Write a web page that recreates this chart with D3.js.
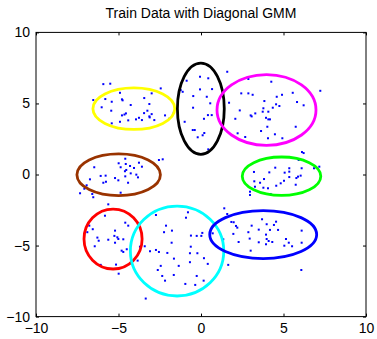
<!DOCTYPE html>
<html><head><meta charset="utf-8">
<script src="https://cdn.jsdelivr.net/npm/d3@7"></script>
<style>html,body{margin:0;padding:0;background:#fff;}svg{display:block;}</style>
</head><body>
<svg id="chart" width="377" height="339"></svg>
<script>
const title = "Train Data with Diagonal GMM";
const xTicks = [-10, -5, 0, 5, 10];
const yTicks = [-10, -5, 0, 5, 10];
const tickLabels = ["\u221210", "\u22125", "0", "5", "10"];

// ellipse components: center x, center y, radius x, radius y, colour
const compNames = ["yellow","black","magenta","green","brown","red","cyan","blue"];
const compCx = [-4.07, -0.01, 3.97, 4.88, -4.99, -5.33, -1.45, 3.77];
const compCy = [4.63, 4.63, 4.54, -0.12, -0.02, -4.54, -5.39, -4.23];
const compRx = [2.48, 1.42, 3.00, 2.38, 2.53, 1.76, 2.83, 3.24];
const compRy = [1.46, 3.21, 2.49, 1.35, 1.47, 2.11, 3.16, 1.69];
const compColors = ["#ffff00","#000000","#ff00ff","#00ff00","#993300","#ff0000","#00ffff","#0000ff"];

// training points, grouped by cluster
const ptsYellow = [[-5.92,6.36],[-5.50,6.39],[-2.44,6.06],[-4.91,5.75],[-2.99,5.71],[-6.53,5.24],[-5.80,5.31],[-4.79,5.29],[-4.75,5.22],[-5.41,5.12],[-3.44,5.38],[-4.26,4.89],[-3.13,4.96],[-6.02,4.73],[-5.44,4.49],[-4.55,4.30],[-4.79,4.16],[-4.64,4.22],[-3.25,4.49],[-3.45,4.32],[-2.99,4.25],[-3.13,4.09],[-3.11,4.02],[-3.76,3.99],[-3.94,3.88],[-3.58,3.83],[-4.41,3.81],[-4.91,3.71],[-5.41,3.60],[-2.83,3.83],[-2.18,4.16],[-1.94,3.92],[-1.65,4.35]];
const ptsBlack = [[-1.23,5.94],[-1.11,5.82],[-0.87,6.60],[-0.06,6.88],[0.44,6.77],[0.67,6.01],[-0.06,5.99],[-0.47,5.52],[0.35,5.47],[0.56,5.01],[-0.48,4.70],[0.42,4.18],[0.65,4.18],[0.18,3.92],[-0.99,3.71],[-0.50,3.13],[-0.38,3.13],[0.20,2.92],[0.10,2.76],[-0.20,2.62],[0.44,1.77]];
const ptsMagenta = [[1.59,7.23],[2.87,6.72],[4.26,6.53],[2.44,5.71],[2.87,5.71],[3.13,5.61],[4.59,5.47],[4.91,5.61],[5.56,5.75],[7.23,5.89],[1.70,5.05],[3.84,5.17],[2.35,4.51],[3.01,4.16],[3.07,4.09],[3.29,4.30],[3.78,4.66],[3.74,4.42],[4.08,4.42],[4.35,4.70],[4.55,4.94],[4.75,4.82],[3.94,3.99],[4.08,3.88],[4.18,3.88],[2.08,3.92],[5.82,5.10],[6.22,4.87],[4.02,3.36],[3.64,3.06],[2.22,2.90],[2.68,2.64],[4.06,2.55],[4.48,2.83],[4.93,2.55],[5.74,3.36]];
const ptsGreen = [[6.12,1.58],[6.22,1.51],[5.92,1.02],[6.85,0.44],[7.17,0.55],[3.21,0.18],[4.14,0.15],[4.50,0.48],[5.07,0.13],[5.35,0.44],[5.35,0.20],[5.35,-0.18],[5.78,-0.25],[5.88,-0.15],[6.04,-0.08],[6.10,0.44],[3.82,-0.32],[3.58,-0.58],[3.23,-0.48],[3.27,-0.86],[3.78,-0.93],[4.06,-0.97],[4.56,-0.79],[4.83,-0.62],[5.03,-0.44],[5.74,-0.72],[2.97,-1.21],[2.97,-1.44],[4.22,-1.37]];
const ptsBrown = [[-4.59,1.11],[-4.99,0.79],[-4.56,0.74],[-3.76,0.83],[-3.58,0.55],[-4.06,0.46],[-4.87,0.51],[-4.30,0.60],[-4.53,0.32],[-4.61,0.23],[-4.26,0.08],[-3.92,-0.01],[-3.82,-0.20],[-4.59,-0.13],[-5.78,-0.08],[-6.08,-0.10],[-5.21,-0.25],[-5.01,-0.41],[-4.42,-0.58],[-6.47,0.51],[-6.73,-0.34],[-5.92,-0.58],[-5.76,-0.51],[-6.93,-0.76],[-7.07,-1.00],[-7.33,-1.32],[-6.59,-1.37],[-6.53,-1.60],[-4.87,-1.28],[-2.55,1.02],[-2.32,1.07]];
const ptsRed = [[-5.62,-2.10],[-5.82,-2.90],[-6.77,-3.60],[-6.56,-3.85],[-6.89,-4.06],[-6.28,-4.44],[-6.20,-4.66],[-6.44,-5.05],[-5.62,-4.59],[-5.21,-3.95],[-5.25,-4.32],[-5.07,-4.42],[-5.01,-4.54],[-4.71,-4.56],[-5.21,-4.80],[-4.59,-3.39],[-4.41,-3.60],[-4.50,-5.26],[-4.81,-5.36],[-4.71,-5.45],[-6.08,-6.36],[-5.15,-6.34],[-4.99,-6.98]];
const ptsCyan = [[-2.73,-2.85],[-0.79,-2.66],[-0.91,-3.04],[-2.12,-3.60],[-2.24,-4.06],[-1.76,-3.95],[-1.78,-4.80],[-0.61,-4.30],[-0.26,-4.32],[0.02,-4.32],[0.08,-4.11],[0.71,-4.14],[1.35,-4.56],[-0.62,-5.08],[-3.70,-5.08],[-3.41,-5.05],[-3.09,-5.40],[-2.73,-5.31],[-2.55,-5.45],[-2.04,-5.52],[-1.64,-5.92],[-0.67,-5.54],[-0.22,-5.54],[0.18,-5.89],[0.41,-6.29],[-0.67,-6.17],[-1.35,-6.43],[-2.44,-6.43],[-2.62,-6.72],[-2.35,-7.14],[-2.18,-7.47],[-1.65,-7.07],[-0.26,-7.14],[0.16,-7.47],[-0.95,-7.70],[-0.35,-7.77],[-3.84,-6.06],[-3.35,-8.73],[1.65,-6.36]];
const ptsBlue = [[1.41,-2.38],[1.59,-2.78],[1.84,-3.34],[1.98,-3.36],[2.12,-3.62],[2.20,-3.74],[1.96,-4.18],[2.28,-4.75],[2.87,-4.06],[2.95,-4.51],[3.07,-3.60],[3.50,-3.88],[3.70,-3.15],[3.98,-3.50],[3.94,-4.23],[3.98,-4.54],[4.18,-3.90],[4.10,-4.68],[4.32,-4.75],[4.42,-3.55],[4.55,-3.32],[4.67,-3.90],[3.50,-4.77],[3.01,-5.36],[3.94,-4.91],[5.15,-4.54],[5.32,-4.80],[5.52,-5.05],[5.05,-5.01],[6.10,-3.95],[6.10,-4.80],[6.08,-6.72]];

const allPts = [].concat(ptsYellow, ptsBlack, ptsMagenta, ptsGreen, ptsBrown, ptsRed, ptsCyan, ptsBlue);

const W = 377, H = 339;
const mLeft = 36, mRight = 366, mTop = 32.4, mBottom = 316.6;
const svg = d3.select("#chart");
const x = d3.scaleLinear().domain([-10, 10]).range([mLeft, mRight]);
const y = d3.scaleLinear().domain([-10, 10]).range([mBottom, mTop]);
const font = "'Liberation Sans', Arial, Helvetica, sans-serif";

svg.append("rect").attr("width", W).attr("height", H).attr("fill", "#fff");

// points
svg.append("g").selectAll("rect").data(allPts).join("rect")
  .attr("x", d => x(d[0]) - 1).attr("y", d => y(d[1]) - 1)
  .attr("width", 2).attr("height", 2).attr("fill", "#0000ff");

// ellipses
svg.append("g").selectAll("ellipse").data(compNames).join("ellipse")
  .attr("cx", (d, i) => x(compCx[i]))
  .attr("cy", (d, i) => y(compCy[i]))
  .attr("rx", (d, i) => x(compCx[i] + compRx[i]) - x(compCx[i]))
  .attr("ry", (d, i) => y(compCy[i]) - y(compCy[i] + compRy[i]))
  .attr("fill", "none")
  .attr("stroke", (d, i) => compColors[i])
  .attr("stroke-width", 2.8);

// axes (MATLAB-style box, inward ticks)
const tickLen = 3;
const fmt = v => tickLabels[xTicks.indexOf(v)];
const axB = d3.axisBottom(x).tickValues(xTicks).tickSizeInner(-tickLen).tickSizeOuter(0).tickPadding(6).tickFormat(fmt);
const axT = d3.axisTop(x).tickValues(xTicks).tickSizeInner(-tickLen).tickSizeOuter(0).tickFormat("");
const axL = d3.axisLeft(y).tickValues(yTicks).tickSizeInner(-tickLen).tickSizeOuter(0).tickPadding(6).tickFormat(fmt);
const axR = d3.axisRight(y).tickValues(yTicks).tickSizeInner(-tickLen).tickSizeOuter(0).tickFormat("");

function styleAx(g) {
  g.select(".domain").remove();
  g.selectAll("line").attr("stroke", "#000");
  g.selectAll("text").attr("fill", "#000").style("font-family", font).style("font-size", "14px");
}
svg.append("g").attr("transform", `translate(0,${mBottom})`).call(axB).call(styleAx);
svg.append("g").attr("transform", `translate(0,${mTop})`).call(axT).call(styleAx);
svg.append("g").attr("transform", `translate(${mLeft},0)`).call(axL).call(styleAx);
svg.append("g").attr("transform", `translate(${mRight},0)`).call(axR).call(styleAx);

svg.append("rect").attr("x", mLeft).attr("y", mTop)
  .attr("width", mRight - mLeft).attr("height", mBottom - mTop)
  .attr("fill", "none").attr("stroke", "#000").attr("stroke-width", 1);

svg.append("text").attr("x", (mLeft + mRight) / 2).attr("y", 18)
  .attr("text-anchor", "middle").style("font-family", font).style("font-size", "14px")
  .attr("fill", "#000").text(title);
</script>
</body></html>
